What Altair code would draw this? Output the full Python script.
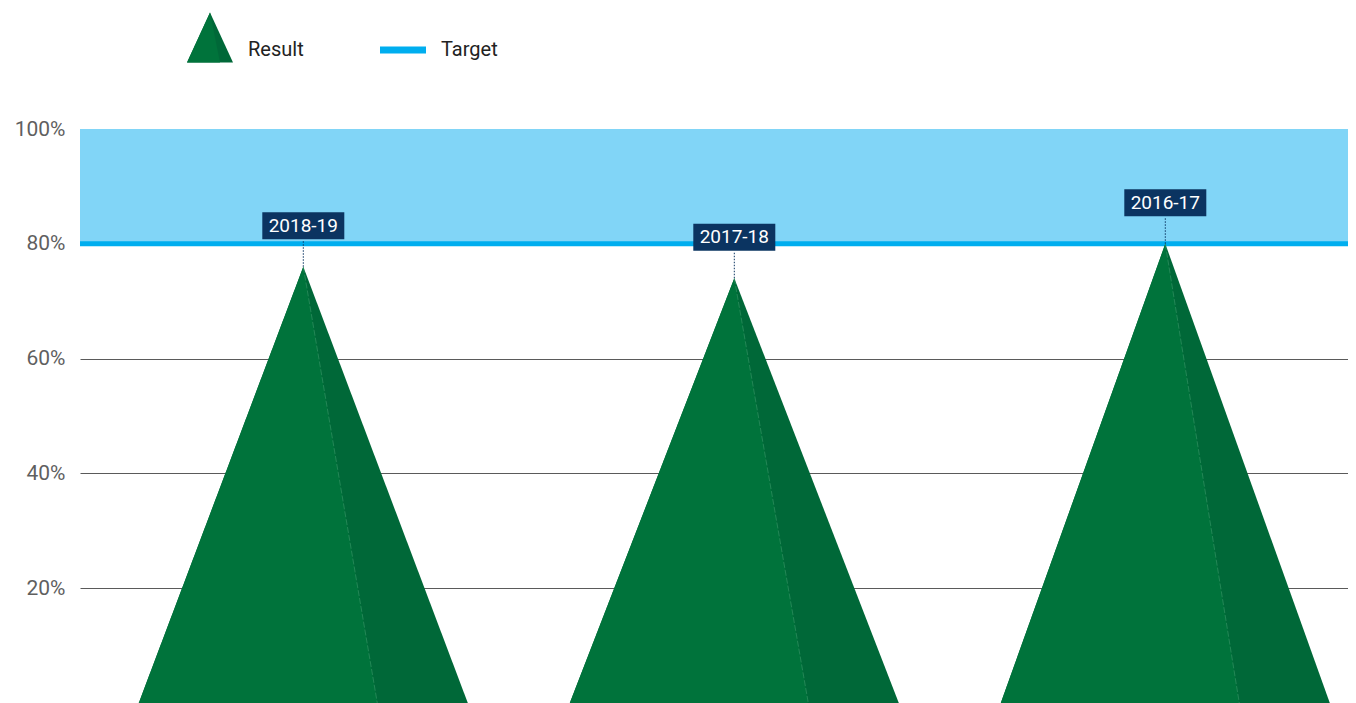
import altair as alt
import pandas as pd

# ---- data ----
years = ["2018-19", "2017-18", "2016-17"]
results = [76, 74, 80]          # % result per year
target_value = [80]             # target line (%)
target_top = [100]              # top of the target band (%)
y_ticks = [20, 40, 60, 80, 100]

# ---- style / layout constants ----
W, H = 1268, 574
HALF = 0.3817        # half base width of a triangle (x units)
SPLIT = 0.1717       # where the lit/shaded faces meet at the base
X_DOMAIN = [-0.5181, 2.4239]
FONT = "Roboto"
LIGHT_G = "#00733b"
DARK_G = "#006838"
NAVY = "#0b3461"
BLUE = "#00aeef"
BAND = "#81d5f7"

full_rows, left_rows, split_rows, label_rows = [], [], [], []
for i, (yr, v) in enumerate(zip(years, results)):
    full_rows += [dict(year=yr, x=i - HALF, y=0), dict(year=yr, x=i, y=v), dict(year=yr, x=i + HALF, y=0)]
    left_rows += [dict(year=yr, x=i - HALF, y=0), dict(year=yr, x=i, y=v), dict(year=yr, x=i + SPLIT, y=0)]
    split_rows += [dict(year=yr, x=i, y=v), dict(year=yr, x=i + SPLIT, y=0)]
    label_rows.append(dict(year=yr, x=i, y=v))

full_df = pd.DataFrame(full_rows)
left_df = pd.DataFrame(left_rows)
split_df = pd.DataFrame(split_rows)
label_df = pd.DataFrame(label_rows)
target_df = pd.DataFrame({"t": target_value, "top": target_top})
one = pd.DataFrame({"k": [0]})

xscale = alt.Scale(domain=X_DOMAIN, nice=False, zero=False)
yscale = alt.Scale(domain=[0, 100], nice=False)
yaxis = alt.Axis(values=y_ticks, labelExpr="datum.value + '%'", grid=True,
                 gridColor="#5a5a5a", gridWidth=1, domain=False, ticks=False,
                 labelPadding=15, labelFontSize=21, labelFont=FONT,
                 labelColor="#5f5f5f", title=None)


def X(f):
    return alt.X(f, type="quantitative", scale=xscale, axis=None)


def Y(f):
    return alt.Y(f, type="quantitative", scale=yscale, axis=yaxis, stack=None)


band = alt.Chart(target_df).mark_rect(color=BAND).encode(
    y=Y("t"), y2=alt.Y2("top"), x=alt.value(0), x2=alt.value("width"))

target = alt.Chart(target_df).mark_rule(color=BLUE, strokeWidth=5).encode(y=Y("t"))

tri_full = alt.Chart(full_df).mark_area(color=DARK_G, opacity=1).encode(
    x=X("x"), y=Y("y"), detail="year:N")

tri_left = alt.Chart(left_df).mark_area(color=LIGHT_G, opacity=1).encode(
    x=X("x"), y=Y("y"), detail="year:N")

split_line = alt.Chart(split_df).mark_line(color="#4aa377", strokeWidth=0.8, opacity=0.6,
                                           strokeDash=[6, 2]).encode(
    x=X("x"), y=Y("y"), detail="year:N")

leader = alt.Chart(label_df).mark_rule(color=NAVY, strokeDash=[1.5, 1.5], strokeWidth=1,
                                       y2Offset=-27).encode(
    x=X("x"), y=Y("y"), y2=alt.Y2("y"))

box_path = "M-1,-0.33L1,-0.33L1,0.33L-1,0.33Z"
boxes = alt.Chart(label_df).mark_point(shape=box_path, filled=True, size=82 * 82,
                                        color=NAVY, opacity=1, strokeWidth=0,
                                        yOffset=-41).encode(x=X("x"), y=Y("y"))

texts = alt.Chart(label_df).mark_text(color="white", font=FONT, fontSize=19,
                                       baseline="middle", align="center",
                                       yOffset=-41).encode(
    x=X("x"), y=Y("y"), text="year:N")

# ---- legend (drawn above the plot) ----
leg_full = alt.Chart(one).mark_point(shape="M0,-1L0.92,1L-0.92,1Z", filled=True, size=2500,
                                     color=DARK_G, opacity=1, strokeWidth=0).encode(
    x=alt.value(130), y=alt.value(-91.5))
leg_left = alt.Chart(one).mark_point(shape="M0,-1L0.4,1L-0.92,1Z", filled=True, size=2500,
                                     color=LIGHT_G, opacity=1, strokeWidth=0).encode(
    x=alt.value(130), y=alt.value(-91.5))
leg_res = alt.Chart(one).mark_text(text="Result", font=FONT, fontSize=20, color="#222222",
                                   align="left", baseline="middle").encode(
    x=alt.value(168), y=alt.value(-79))
leg_line = alt.Chart(one).mark_rule(color=BLUE, strokeWidth=7).encode(
    x=alt.value(300), x2=alt.value(346), y=alt.value(-79))
leg_tgt = alt.Chart(one).mark_text(text="Target", font=FONT, fontSize=20, color="#222222",
                                   align="left", baseline="middle").encode(
    x=alt.value(361), y=alt.value(-79))

chart = alt.layer(
    band, target, tri_full, tri_left, split_line, leader, boxes, texts,
    leg_full, leg_left, leg_res, leg_line, leg_tgt
).properties(
    width=W, height=H,
    autosize=alt.AutoSizeParams(type="none"),
    padding={"left": 72, "top": 121, "right": 0, "bottom": 0},
    background="white",
).configure_view(stroke=None)

chart.save("out.html", embed_options={"renderer": "svg", "actions": False})
